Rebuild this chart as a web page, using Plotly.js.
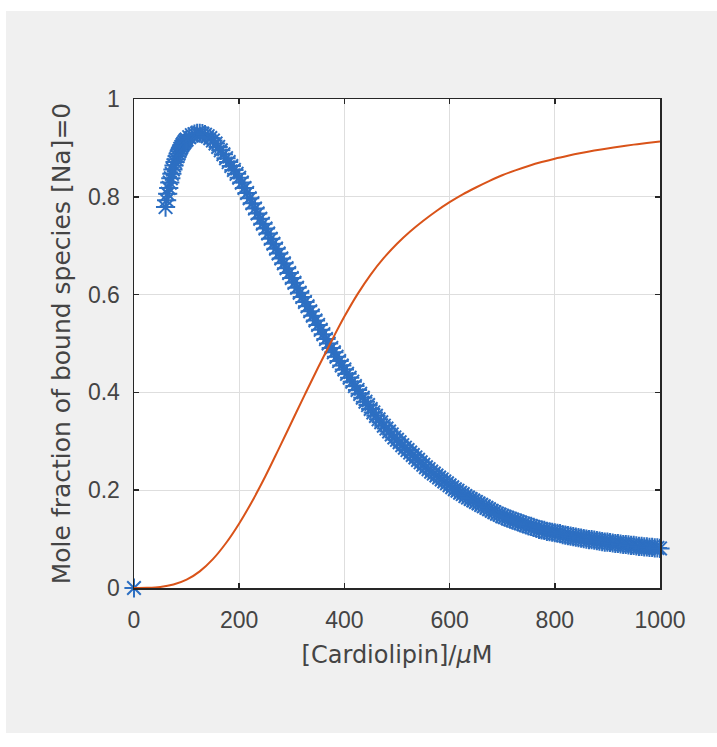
<!DOCTYPE html>
<html>
<head>
<meta charset="utf-8">
<script src="https://cdn.plot.ly/plotly-3.0.1.min.js"></script>
<style>
  html, body { margin: 0; padding: 0; background: #ffffff; }
  #bg { position: absolute; left: 6px; top: 11px; width: 711px; height: 722px; background: #f0f0f0; }
  #plot { position: absolute; left: 0; top: 0; width: 717px; height: 747px; }
</style>
</head>
<body>
<div id="bg"></div>
<div id="plot"></div>
<script>
// Blue series (asterisk markers): mole fraction, first species
var blueX = [0,
  60, 62, 64, 66, 68, 70, 72, 74, 76, 78, 80, 82, 84, 86, 88, 90, 92, 94, 96, 98, 100,
  105, 110, 115, 120, 125, 130, 135, 140, 145, 150, 155, 160, 165, 170, 175, 180, 185, 190, 195, 200,
  205, 210, 215, 220, 225, 230, 235, 240, 245, 250, 255, 260, 265, 270, 275, 280, 285, 290, 295, 300,
  305, 310, 315, 320, 325, 330, 335, 340, 345, 350, 355, 360, 365, 370, 375, 380, 385, 390, 395, 400,
  405, 410, 415, 420, 425, 430, 435, 440, 445, 450, 455, 460, 465, 470, 475, 480, 485, 490, 495, 500,
  505, 510, 515, 520, 525, 530, 535, 540, 545, 550, 555, 560, 565, 570, 575, 580, 585, 590, 595, 600,
  605, 610, 615, 620, 625, 630, 635, 640, 645, 650, 655, 660, 665, 670, 675, 680, 685, 690, 695, 700,
  705, 710, 715, 720, 725, 730, 735, 740, 745, 750, 755, 760, 765, 770, 775, 780, 785, 790, 795, 800,
  805, 810, 815, 820, 825, 830, 835, 840, 845, 850, 855, 860, 865, 870, 875, 880, 885, 890, 895, 900,
  905, 910, 915, 920, 925, 930, 935, 940, 945, 950, 955, 960, 965, 970, 975, 980, 985, 990, 995, 1000];
var blueY = [0,
  0.779, 0.793, 0.806, 0.818, 0.829, 0.838, 0.847, 0.856, 0.864, 0.871, 0.877, 0.883, 0.888, 0.893, 0.898, 0.902, 0.906, 0.909, 0.912, 0.915, 0.917,
  0.922, 0.926, 0.928, 0.930, 0.930, 0.929, 0.927, 0.924, 0.920, 0.915, 0.909, 0.902, 0.895, 0.887, 0.879, 0.871, 0.863, 0.855, 0.847, 0.839,
  0.829, 0.818, 0.808, 0.797, 0.787, 0.776, 0.766, 0.755, 0.745, 0.735, 0.725, 0.714, 0.704, 0.694, 0.684, 0.674, 0.664, 0.654, 0.644, 0.634,
  0.624, 0.614, 0.604, 0.595, 0.585, 0.576, 0.566, 0.557, 0.547, 0.538, 0.528, 0.519, 0.509, 0.500, 0.491, 0.482, 0.473, 0.464, 0.455, 0.447,
  0.438, 0.430, 0.422, 0.413, 0.405, 0.397, 0.389, 0.381, 0.374, 0.366, 0.359, 0.352, 0.345, 0.339, 0.332, 0.326, 0.320, 0.314, 0.308, 0.303,
  0.298, 0.292, 0.287, 0.282, 0.277, 0.272, 0.267, 0.262, 0.257, 0.252, 0.247, 0.243, 0.238, 0.234, 0.230, 0.226, 0.222, 0.218, 0.214, 0.210,
  0.206, 0.202, 0.199, 0.195, 0.192, 0.188, 0.185, 0.182, 0.179, 0.176, 0.173, 0.170, 0.167, 0.164, 0.161, 0.158, 0.155, 0.152, 0.150, 0.147,
  0.145, 0.143, 0.141, 0.139, 0.137, 0.135, 0.133, 0.131, 0.129, 0.127, 0.126, 0.124, 0.122, 0.120, 0.119, 0.118, 0.116, 0.115, 0.114, 0.113,
  0.112, 0.111, 0.109, 0.108, 0.107, 0.106, 0.105, 0.104, 0.103, 0.102, 0.101, 0.100, 0.099, 0.099, 0.098, 0.097, 0.096, 0.095, 0.094, 0.094,
  0.093, 0.092, 0.091, 0.091, 0.090, 0.089, 0.089, 0.088, 0.087, 0.087, 0.086, 0.085, 0.085, 0.084, 0.084, 0.083, 0.083, 0.082, 0.082, 0.081];

// Orange series (solid line): mole fraction, second species
var orangeX = [0, 25, 50, 75, 100, 125, 150, 175, 200, 225, 250, 275, 300, 325, 350, 375, 400, 425, 450, 475, 500,
  525, 550, 575, 600, 625, 650, 675, 700, 725, 750, 775, 800, 825, 850, 875, 900, 925, 950, 975, 1000];
var orangeY = [0, 0.0003, 0.002, 0.007, 0.017, 0.034, 0.059, 0.092, 0.132, 0.178, 0.229, 0.284, 0.340, 0.396, 0.451, 0.504, 0.555, 0.601, 0.641, 0.675, 0.704,
  0.729, 0.751, 0.771, 0.789, 0.805, 0.819, 0.832, 0.844, 0.854, 0.863, 0.871, 0.878, 0.884, 0.8895, 0.8945, 0.899, 0.903, 0.9067, 0.910, 0.913];

var xTicks = [0, 200, 400, 600, 800, 1000];
var xTickText = ['0', '200', '400', '600', '800', '1000'];
var yTicks = [0, 0.2, 0.4, 0.6, 0.8, 1];
var yTickText = ['0', '0.2', '0.4', '0.6', '0.8', '1'];

var xTitle = '[Cardiolipin]/<i>μ</i>M';
var yTitle = 'Mole fraction of bound species [Na]=0';

var textColor = '#444444';
var axisColor = '#262626';

var traces = [
  {
    x: blueX, y: blueY, type: 'scatter', mode: 'markers',
    marker: { symbol: 'asterisk-open', size: 16, color: '#2d6fc2',
              line: { color: '#2d6fc2', width: 2 } },
    cliponaxis: false, hoverinfo: 'skip'
  },
  {
    x: orangeX, y: orangeY, type: 'scatter', mode: 'lines',
    line: { color: '#d95319', width: 2, shape: 'spline', smoothing: 1, simplify: false },
    hoverinfo: 'skip'
  }
];

var axisCommon = {
  showgrid: true, gridcolor: '#dedede', gridwidth: 1,
  zeroline: false, showline: true, linecolor: axisColor, linewidth: 1.5,
  mirror: 'ticks', ticks: 'inside', ticklen: 5, tickwidth: 1.5, tickcolor: axisColor,
  tickfont: { family: 'Liberation Sans, Arial, sans-serif', size: 23, color: textColor },
  fixedrange: true
};

var layout = {
  width: 717, height: 747,
  margin: { l: 134, r: 57, t: 99, b: 159, pad: 0 },
  paper_bgcolor: 'rgba(0,0,0,0)',
  plot_bgcolor: '#ffffff',
  showlegend: false,
  xaxis: Object.assign({}, axisCommon, {
    range: [0, 1000], tickmode: 'array', tickvals: xTicks, ticktext: xTickText,
    ticklabelstandoff: 11,
    title: { text: xTitle, standoff: 14,
             font: { family: 'DejaVu Sans, sans-serif', size: 24, color: textColor } }
  }),
  yaxis: Object.assign({}, axisCommon, {
    range: [0, 1], tickmode: 'array', tickvals: yTicks, ticktext: yTickText,
    ticklabelstandoff: 8,
    title: { text: yTitle, standoff: 10,
             font: { family: 'DejaVu Sans, sans-serif', size: 25, color: textColor } }
  })
};

Plotly.newPlot('plot', traces, layout, { staticPlot: true, displayModeBar: false });
</script>
</body>
</html>
